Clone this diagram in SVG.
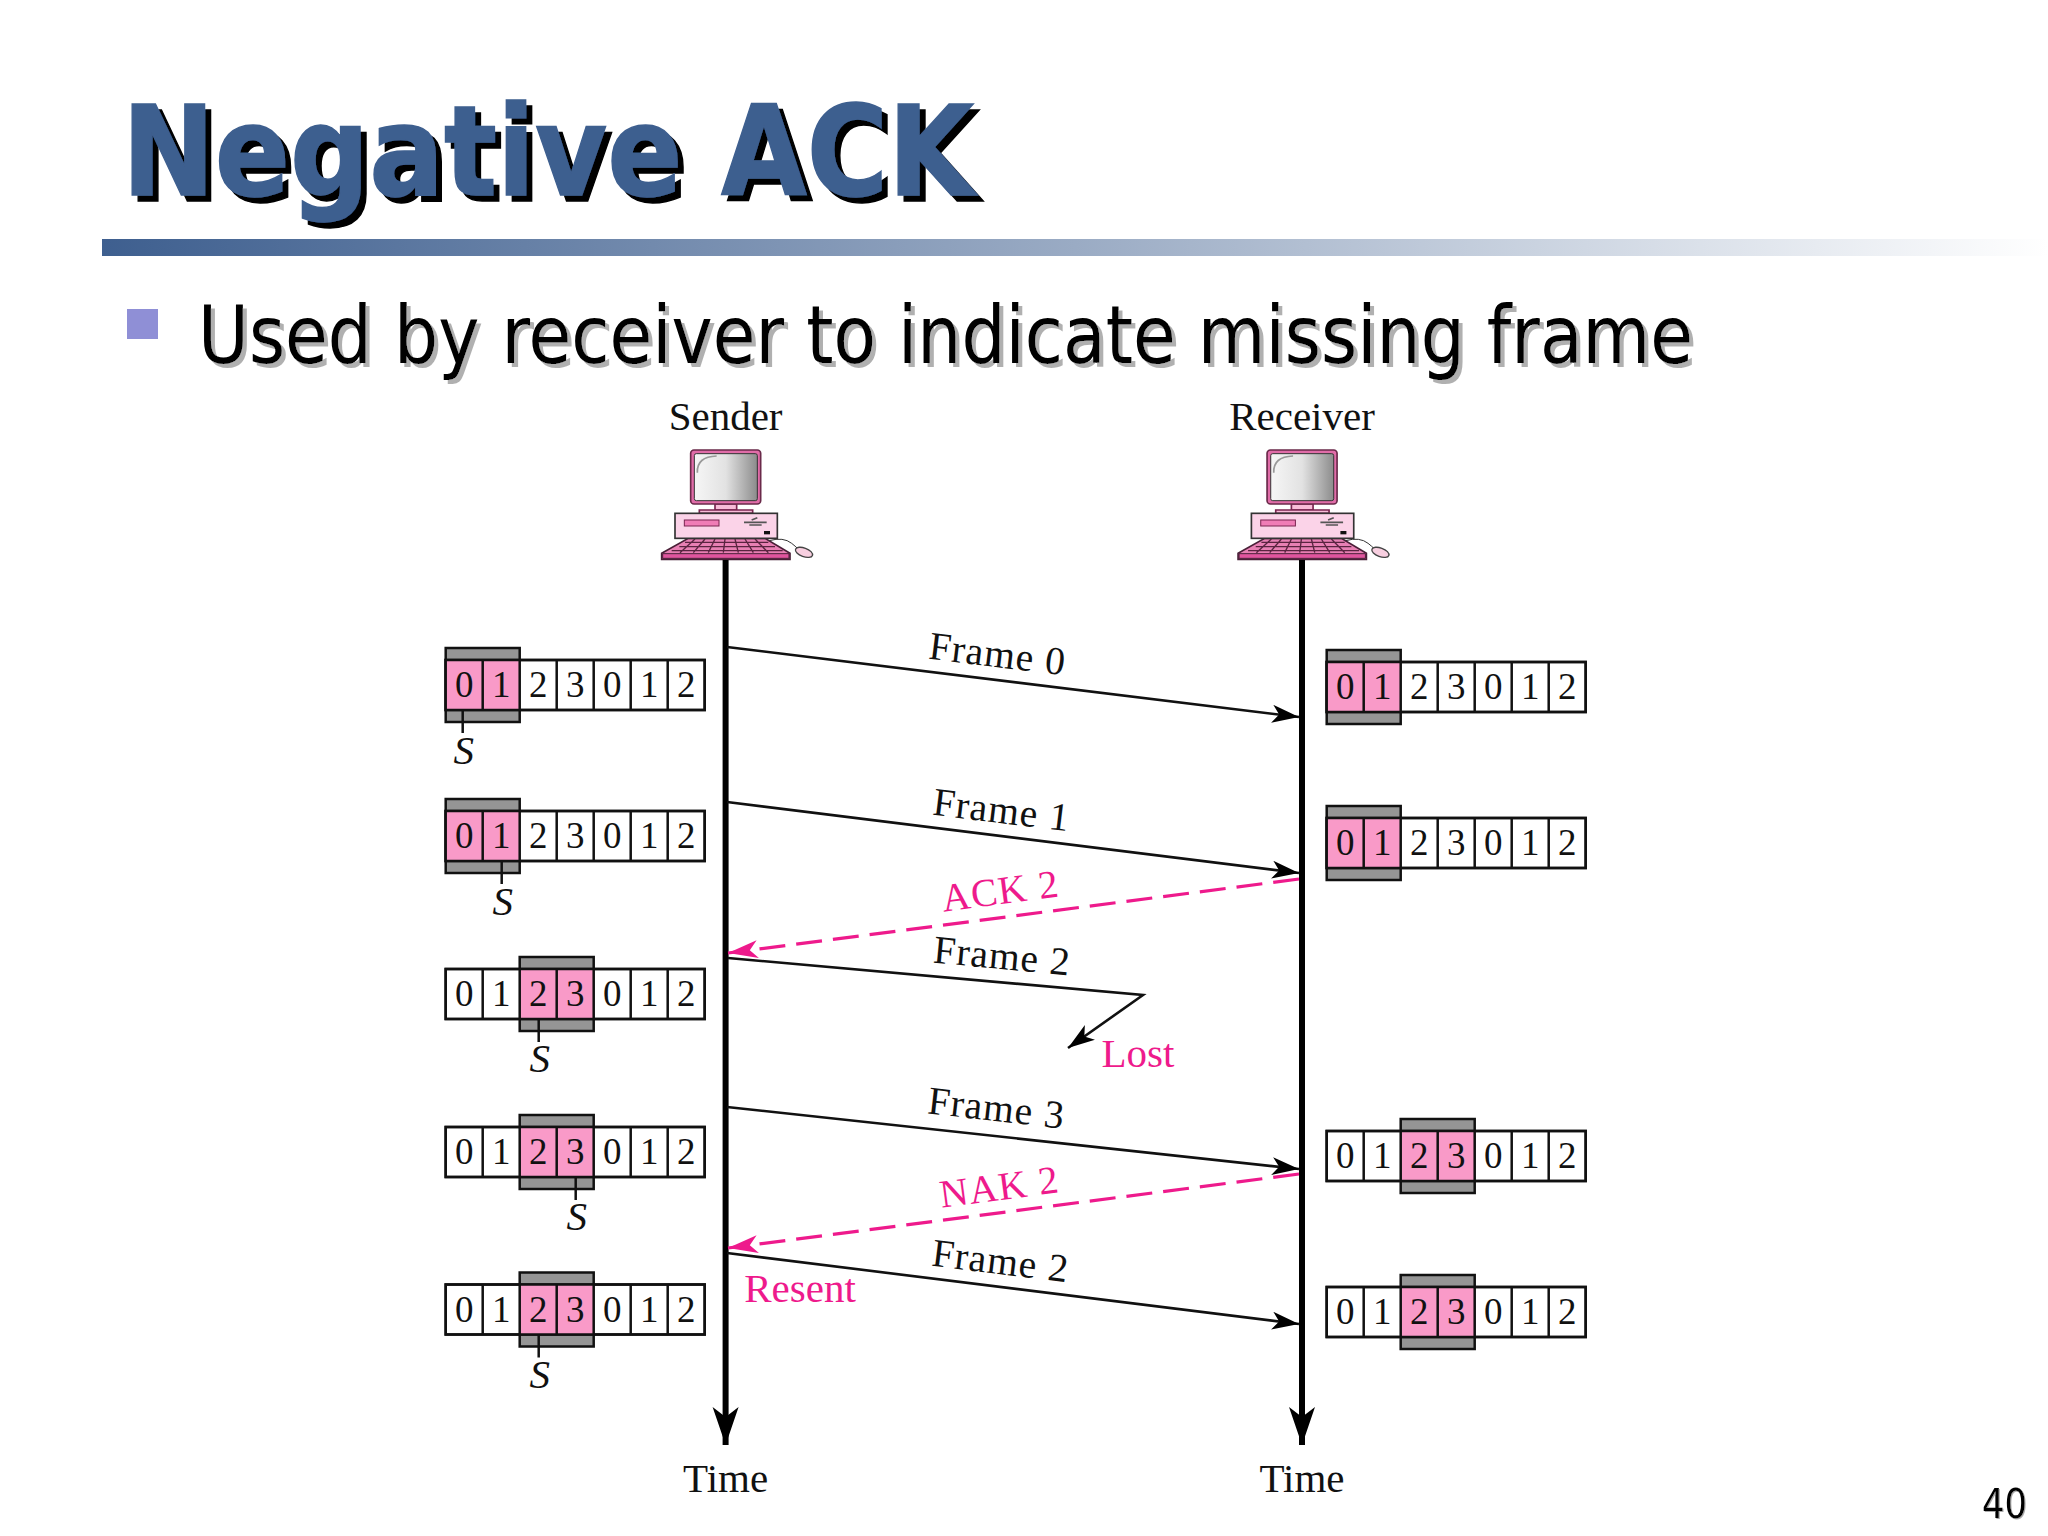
<svg xmlns="http://www.w3.org/2000/svg" width="2048" height="1536" viewBox="0 0 2048 1536">
<style>
text{font-family:"Liberation Serif","Times New Roman",serif;fill:#111}
.t{font-family:"DejaVu Sans",sans-serif;font-weight:700;font-size:125px;fill:#3e5f8f;stroke:#3e5f8f;stroke-width:1.5}
.b{font-family:"DejaVu Sans",sans-serif;font-size:80px;fill:#000}
.n{font-family:"DejaVu Sans",sans-serif;font-size:40px;fill:#000}
.l{font-size:41px;text-anchor:middle}
.m{font-size:39.5px;text-anchor:middle;letter-spacing:1px}
.d{font-size:37px;text-anchor:middle}
.s{font-size:41px;font-style:italic;text-anchor:middle}
.band{fill:#959595;stroke:#111;stroke-width:2.5}
.cell{fill:#fff;stroke:#111;stroke-width:2.5}
.hi{fill:#f99ac8}
.grid{fill:none;stroke:#111;stroke-width:2.5}
.msg{fill:none;stroke:#111;stroke-width:2.6}
.nak{fill:none;stroke:#ee1a8c;stroke-width:3.2;stroke-dasharray:26 11}
.axis{fill:none;stroke:#000;stroke-width:6}
.pk{stroke:#7a2550;stroke-width:5}
</style>
<defs>
<linearGradient id="bar"><stop offset="0" stop-color="#3e5f8f"/><stop offset=".5" stop-color="#9aabc4"/><stop offset="1" stop-color="#fff"/></linearGradient>
<linearGradient id="scr"><stop offset="0" stop-color="#f6f6f6"/><stop offset=".5" stop-color="#e2e2e2"/><stop offset="1" stop-color="#8c8c8c"/></linearGradient>
<filter id="sh-t" x="-5%" y="-20%" width="110%" height="140%"><feDropShadow dx="6" dy="6" stdDeviation="0" flood-color="#000"/></filter>
<filter id="sh-b" x="-5%" y="-20%" width="110%" height="140%"><feDropShadow dx="4" dy="4" stdDeviation=".6" flood-color="#b0b0b0"/></filter>
<filter id="sh-n" x="-20%" y="-20%" width="140%" height="140%"><feDropShadow dx="1" dy="1" stdDeviation=".6" flood-color="#aaa"/></filter>
<marker id="ah" markerUnits="userSpaceOnUse" markerWidth="30" markerHeight="20" refX="27" refY="9" orient="auto"><path d="M0 0L27 9L0 18L7 9z" fill="#000"/></marker>
<marker id="ap" markerUnits="userSpaceOnUse" markerWidth="32" markerHeight="20" refX="30" refY="9" orient="auto"><path d="M0 0L30 9L0 18L8 9z" fill="#ee1a8c"/></marker>
<marker id="at" markerUnits="userSpaceOnUse" markerWidth="40" markerHeight="28" refX="38" refY="13" orient="auto"><path d="M0 0L38 13L0 26L10 13z" fill="#000"/></marker>
<g id="pc">
<path d="M145 445H375L450 490V508H65V490z" fill="#e880b4" stroke="#4a2038" stroke-width="5"/>
<path d="M135 457H385M118 470H405M95 482H428M165 447L120 488M195 447L160 488M225 447L205 488M255 447L250 488M285 447L295 488M315 447L340 488M345 447L385 488" stroke="#5a2440" stroke-width="4" fill="none"/>
<path d="M68 491H447V505H68z" fill="#e0559e" stroke="#4a2038" stroke-width="3"/>
<path d="M225 342H290V360H225z" fill="#f8bcd8" class="pk"/>
<path d="M178 360H338V370H178z" fill="#f8bcd8" class="pk"/>
<rect x="105" y="370" width="307" height="75" fill="#fbd3e8" stroke="#333" stroke-width="5"/>
<rect x="133" y="390" width="104" height="18" fill="#f07cb6" stroke="#7a2550" stroke-width="3"/>
<path d="M312 397H380M328 405H365M335 390L352 383" stroke="#555" stroke-width="5" fill="none"/>
<rect x="372" y="423" width="18" height="10" fill="#111"/>
<rect x="152" y="180" width="210" height="162" rx="10" fill="#e06ca8" stroke="#6a2a4a" stroke-width="5"/>
<rect x="163" y="191" width="189" height="141" rx="6" fill="url(#scr)" stroke="#333" stroke-width="3"/>
<path d="M172 248Q170 200 230 198" fill="none" stroke="#999" stroke-width="5"/>
<path d="M388 452Q430 440 455 460T470 476" fill="none" stroke="#333" stroke-width="3"/>
<ellipse cx="492" cy="487" rx="27" ry="13" transform="rotate(20 492 487)" fill="#f8cfe0" stroke="#444" stroke-width="4"/>
</g>
</defs>
<rect width="2048" height="1536" fill="#fff"/>

<g id="title">
<text class="t" x="122" y="195" filter="url(#sh-t)" textLength="852" lengthAdjust="spacingAndGlyphs">Negative ACK</text>
<rect x="102" y="239" width="1946" height="17" fill="url(#bar)"/>
</g>
<g id="bullet">
<rect x="127" y="309" width="31" height="30" fill="#8f8fd6"/>
<text class="b" x="198" y="363" filter="url(#sh-b)" textLength="1495" lengthAdjust="spacingAndGlyphs">Used by receiver to indicate missing frame</text>
</g>

<g id="sender">
<text class="l" x="725.6" y="430">Sender</text>
<use href="#pc" transform="translate(640 390) scale(.33333)"/>
</g>
<g id="receiver">
<text class="l" x="1302" y="430">Receiver</text>
<use href="#pc" transform="translate(1216.4 390) scale(.33333)"/>
</g>
<g id="time-sender"><text class="l" x="725.6" y="1492">Time</text></g>
<g id="time-receiver"><text class="l" x="1302" y="1492">Time</text></g>

<g id="connectors">
<path class="axis" d="M725.6 560V1445" marker-end="url(#at)"/>
<path class="axis" d="M1302 560V1445" marker-end="url(#at)"/>
<path class="msg" d="M727 647L1299 717" marker-end="url(#ah)"/>
<path class="msg" d="M727 802L1299 873" marker-end="url(#ah)"/>
<path class="nak" d="M1299 879L728 953" marker-end="url(#ap)"/>
<path class="msg" d="M728 958L1143 995L1068 1048" marker-end="url(#ah)"/>
<path class="msg" d="M727 1107L1299 1169" marker-end="url(#ah)"/>
<path class="nak" d="M1299 1174L728 1248" marker-end="url(#ap)"/>
<path class="msg" d="M727 1253L1299 1324" marker-end="url(#ah)"/>
</g>

<g id="labels">
<text class="m" transform="translate(996 667) rotate(7)">Frame 0</text>
<text class="m" transform="translate(1000 823) rotate(7)">Frame 1</text>
<text class="m" style="fill:#ee1a8c" transform="translate(1002 904) rotate(-7.5)">ACK 2</text>
<text class="m" transform="translate(1001 969) rotate(5.5)">Frame 2</text>
<text class="l" style="fill:#ee1a8c" x="1138" y="1067">Lost</text>
<text class="m" transform="translate(995 1121) rotate(6.5)">Frame 3</text>
<text class="m" style="fill:#ee1a8c" transform="translate(1001 1200) rotate(-7.5)">NAK 2</text>
<text class="m" transform="translate(999 1274) rotate(7)">Frame 2</text>
<text class="l" style="fill:#ee1a8c" x="800" y="1302">Resent</text>
</g>

<g id="s-win-1" transform="translate(445.7 660)">
<rect class="band" x="0" y="-12" width="74" height="74"/><rect class="cell" width="259" height="50"/><rect class="hi" x="0" width="74" height="50"/>
<path class="grid" d="M0 0H259V50H0zM37 0V50M74 0V50M111 0V50M148 0V50M185 0V50M222 0V50"/>
<text class="d" x="18.5" y="37">0</text><text class="d" x="55.5" y="37">1</text><text class="d" x="92.5" y="37">2</text><text class="d" x="129.5" y="37">3</text><text class="d" x="166.5" y="37">0</text><text class="d" x="203.5" y="37">1</text><text class="d" x="240.5" y="37">2</text>
<path class="grid" d="M17 50V73"/><text class="s" x="18" y="104">S</text>
</g>
<g id="s-win-2" transform="translate(445.7 811)">
<rect class="band" x="0" y="-12" width="74" height="74"/><rect class="cell" width="259" height="50"/><rect class="hi" x="0" width="74" height="50"/>
<path class="grid" d="M0 0H259V50H0zM37 0V50M74 0V50M111 0V50M148 0V50M185 0V50M222 0V50"/>
<text class="d" x="18.5" y="37">0</text><text class="d" x="55.5" y="37">1</text><text class="d" x="92.5" y="37">2</text><text class="d" x="129.5" y="37">3</text><text class="d" x="166.5" y="37">0</text><text class="d" x="203.5" y="37">1</text><text class="d" x="240.5" y="37">2</text>
<path class="grid" d="M56 50V73"/><text class="s" x="57" y="104">S</text>
</g>
<g id="s-win-3" transform="translate(445.7 969)">
<rect class="band" x="74" y="-12" width="74" height="74"/><rect class="cell" width="259" height="50"/><rect class="hi" x="74" width="74" height="50"/>
<path class="grid" d="M0 0H259V50H0zM37 0V50M74 0V50M111 0V50M148 0V50M185 0V50M222 0V50"/>
<text class="d" x="18.5" y="37">0</text><text class="d" x="55.5" y="37">1</text><text class="d" x="92.5" y="37">2</text><text class="d" x="129.5" y="37">3</text><text class="d" x="166.5" y="37">0</text><text class="d" x="203.5" y="37">1</text><text class="d" x="240.5" y="37">2</text>
<path class="grid" d="M93 50V73"/><text class="s" x="94" y="103">S</text>
</g>
<g id="s-win-4" transform="translate(445.7 1127)">
<rect class="band" x="74" y="-12" width="74" height="74"/><rect class="cell" width="259" height="50"/><rect class="hi" x="74" width="74" height="50"/>
<path class="grid" d="M0 0H259V50H0zM37 0V50M74 0V50M111 0V50M148 0V50M185 0V50M222 0V50"/>
<text class="d" x="18.5" y="37">0</text><text class="d" x="55.5" y="37">1</text><text class="d" x="92.5" y="37">2</text><text class="d" x="129.5" y="37">3</text><text class="d" x="166.5" y="37">0</text><text class="d" x="203.5" y="37">1</text><text class="d" x="240.5" y="37">2</text>
<path class="grid" d="M130 50V73"/><text class="s" x="131" y="103">S</text>
</g>
<g id="s-win-5" transform="translate(445.7 1284.5)">
<rect class="band" x="74" y="-12" width="74" height="74"/><rect class="cell" width="259" height="50"/><rect class="hi" x="74" width="74" height="50"/>
<path class="grid" d="M0 0H259V50H0zM37 0V50M74 0V50M111 0V50M148 0V50M185 0V50M222 0V50"/>
<text class="d" x="18.5" y="37">0</text><text class="d" x="55.5" y="37">1</text><text class="d" x="92.5" y="37">2</text><text class="d" x="129.5" y="37">3</text><text class="d" x="166.5" y="37">0</text><text class="d" x="203.5" y="37">1</text><text class="d" x="240.5" y="37">2</text>
<path class="grid" d="M93 50V73"/><text class="s" x="94" y="103">S</text>
</g>

<g id="r-win-1" transform="translate(1326.7 662)">
<rect class="band" x="0" y="-12" width="74" height="74"/><rect class="cell" width="259" height="50"/><rect class="hi" x="0" width="74" height="50"/>
<path class="grid" d="M0 0H259V50H0zM37 0V50M74 0V50M111 0V50M148 0V50M185 0V50M222 0V50"/>
<text class="d" x="18.5" y="37">0</text><text class="d" x="55.5" y="37">1</text><text class="d" x="92.5" y="37">2</text><text class="d" x="129.5" y="37">3</text><text class="d" x="166.5" y="37">0</text><text class="d" x="203.5" y="37">1</text><text class="d" x="240.5" y="37">2</text>
</g>
<g id="r-win-2" transform="translate(1326.7 818)">
<rect class="band" x="0" y="-12" width="74" height="74"/><rect class="cell" width="259" height="50"/><rect class="hi" x="0" width="74" height="50"/>
<path class="grid" d="M0 0H259V50H0zM37 0V50M74 0V50M111 0V50M148 0V50M185 0V50M222 0V50"/>
<text class="d" x="18.5" y="37">0</text><text class="d" x="55.5" y="37">1</text><text class="d" x="92.5" y="37">2</text><text class="d" x="129.5" y="37">3</text><text class="d" x="166.5" y="37">0</text><text class="d" x="203.5" y="37">1</text><text class="d" x="240.5" y="37">2</text>
</g>
<g id="r-win-3" transform="translate(1326.7 1131)">
<rect class="band" x="74" y="-12" width="74" height="74"/><rect class="cell" width="259" height="50"/><rect class="hi" x="74" width="74" height="50"/>
<path class="grid" d="M0 0H259V50H0zM37 0V50M74 0V50M111 0V50M148 0V50M185 0V50M222 0V50"/>
<text class="d" x="18.5" y="37">0</text><text class="d" x="55.5" y="37">1</text><text class="d" x="92.5" y="37">2</text><text class="d" x="129.5" y="37">3</text><text class="d" x="166.5" y="37">0</text><text class="d" x="203.5" y="37">1</text><text class="d" x="240.5" y="37">2</text>
</g>
<g id="r-win-4" transform="translate(1326.7 1287)">
<rect class="band" x="74" y="-12" width="74" height="74"/><rect class="cell" width="259" height="50"/><rect class="hi" x="74" width="74" height="50"/>
<path class="grid" d="M0 0H259V50H0zM37 0V50M74 0V50M111 0V50M148 0V50M185 0V50M222 0V50"/>
<text class="d" x="18.5" y="37">0</text><text class="d" x="55.5" y="37">1</text><text class="d" x="92.5" y="37">2</text><text class="d" x="129.5" y="37">3</text><text class="d" x="166.5" y="37">0</text><text class="d" x="203.5" y="37">1</text><text class="d" x="240.5" y="37">2</text>
</g>

<g id="page">
<text class="n" x="1982" y="1518" filter="url(#sh-n)" textLength="45" lengthAdjust="spacingAndGlyphs">40</text>
</g>
</svg>
